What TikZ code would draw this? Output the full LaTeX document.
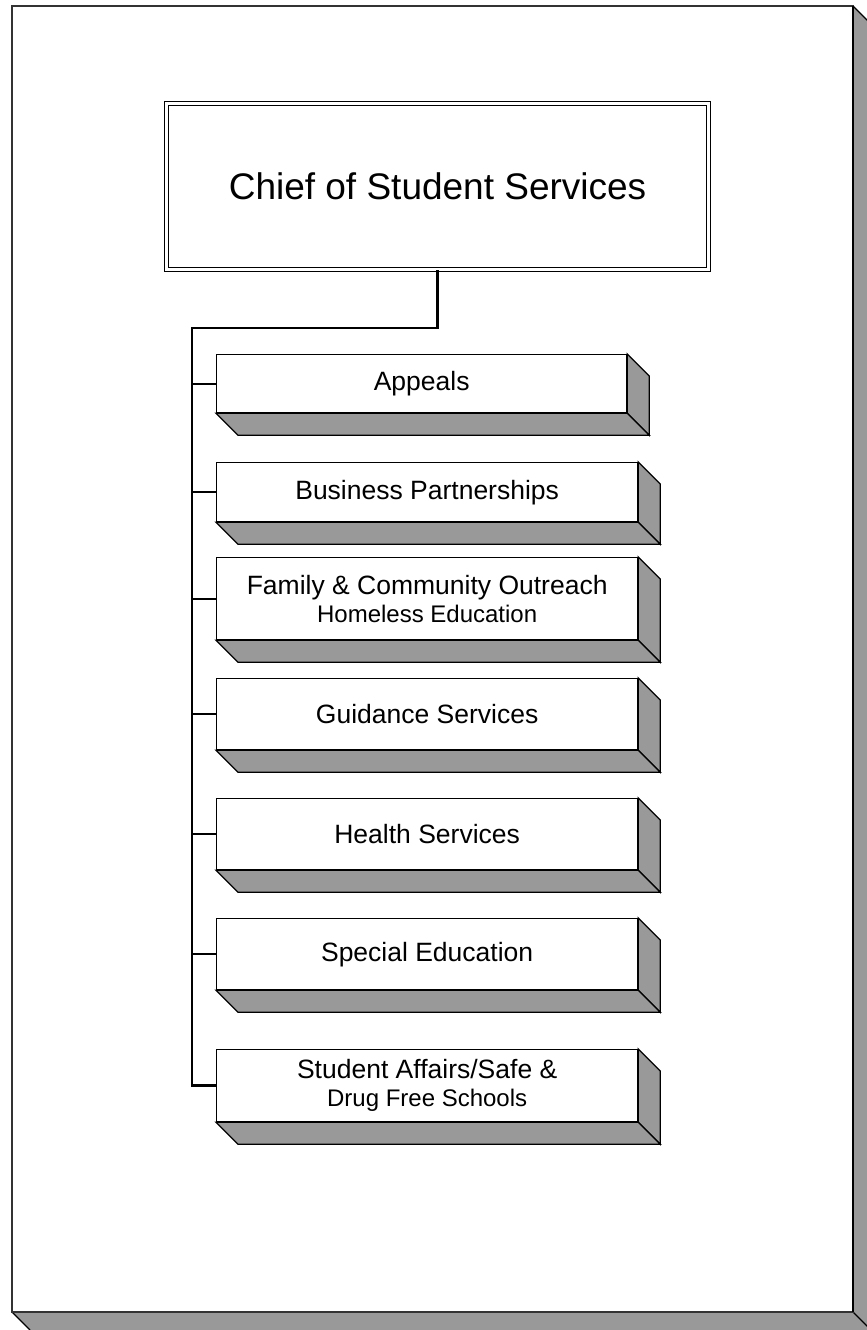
\documentclass[tikz,border=0pt]{standalone}
\usepackage{fontspec}
\setmainfont{Liberation Sans}
\usetikzlibrary{calc}
\definecolor{facegray}{HTML}{999999}
\definecolor{pageedge}{HTML}{333333}
\tikzset{
  unitbox/.style={draw=black, line width=1.3pt, fill=white, inner sep=0pt,
    anchor=north west, minimum height=#1, align=center,
    font=\fontsize{26.5}{30}\selectfont},
  sideface/.style={fill=facegray, draw=black, line width=1.3pt, line join=miter},
  trunk/.style={line width=2.6pt, line join=miter},
  branch/.style={line width=2pt}
}
% 3D faces (right side and bottom) behind a front box
\newcommand{\boxdepth}[1]{%
  \draw[sideface] (#1.north east) -- ($(#1.north east)+(22,22)$)
    -- ($(#1.south east)+(22,22)$) -- (#1.south east) -- cycle;
  \draw[sideface] (#1.south west) -- (#1.south east)
    -- ($(#1.south east)+(22,22)$) -- ($(#1.south west)+(22,22)$) -- cycle;
}
\begin{document}
\begin{tikzpicture}[x=1pt,y=-1pt]
\useasboundingbox (0,0) rectangle (867,1330);
\clip (0,0) rectangle (867,1330);

% page with depth
\fill[facegray] (853,6) -- (871,24) -- (871,1330) -- (853,1312) -- cycle;
\fill[facegray] (12,1312) -- (853,1312) -- (871,1330) -- (30,1330) -- cycle;
\draw[line width=1.2pt] (853,6) -- (871,24);
\draw[line width=1.2pt] (12,1312) -- (30,1330);
\draw[line width=1.2pt] (853,1312) -- (871,1330);
\draw[pageedge, line width=1.6pt, fill=white] (12,6) rectangle (853,1312);
\draw[line width=1.2pt] (853,6) -- (853,1312);

% head of the unit
\node[draw, double, double distance=2.6pt, line width=1.1pt, inner sep=0pt,
      minimum width=542pt, minimum height=166pt, anchor=north west,
      font=\fontsize{37}{40}\selectfont] (chief) at (166,103) {Chief of Student Services};

% departments
\node[unitbox=58pt, minimum width=410pt] (appeals) at (216,354) {Appeals};
\node[unitbox=59pt, minimum width=421pt] (business) at (216,462) {Business Partnerships};
\node[unitbox=82pt, minimum width=421pt] (family) at (216,557)
  {Family \& Community Outreach\\[-2pt]{\fontsize{24}{28}\selectfont Homeless Education}};
\node[unitbox=71pt, minimum width=421pt] (guidance) at (216,678) {Guidance Services};
\node[unitbox=71pt, minimum width=421pt] (health) at (216,798) {Health Services};
\node[unitbox=71pt, minimum width=421pt] (special) at (216,918) {Special Education};
\node[unitbox=72pt, minimum width=421pt] (affairs) at (216,1049)
  {Student Affairs/Safe \&\\[-2pt]{\fontsize{24}{28}\selectfont Drug Free Schools}};

\boxdepth{appeals}
\boxdepth{business}
\boxdepth{family}
\boxdepth{guidance}
\boxdepth{health}
\boxdepth{special}
\boxdepth{affairs}

% reporting lines
\coordinate (bend) at (192,328);
\draw[trunk] (chief.south) |- (bend) |- (affairs.west);
\foreach \d in {appeals,business,family,guidance,health,special}
  \draw[branch] (bend |- \d.west) -- (\d.west);
\end{tikzpicture}
\end{document}
